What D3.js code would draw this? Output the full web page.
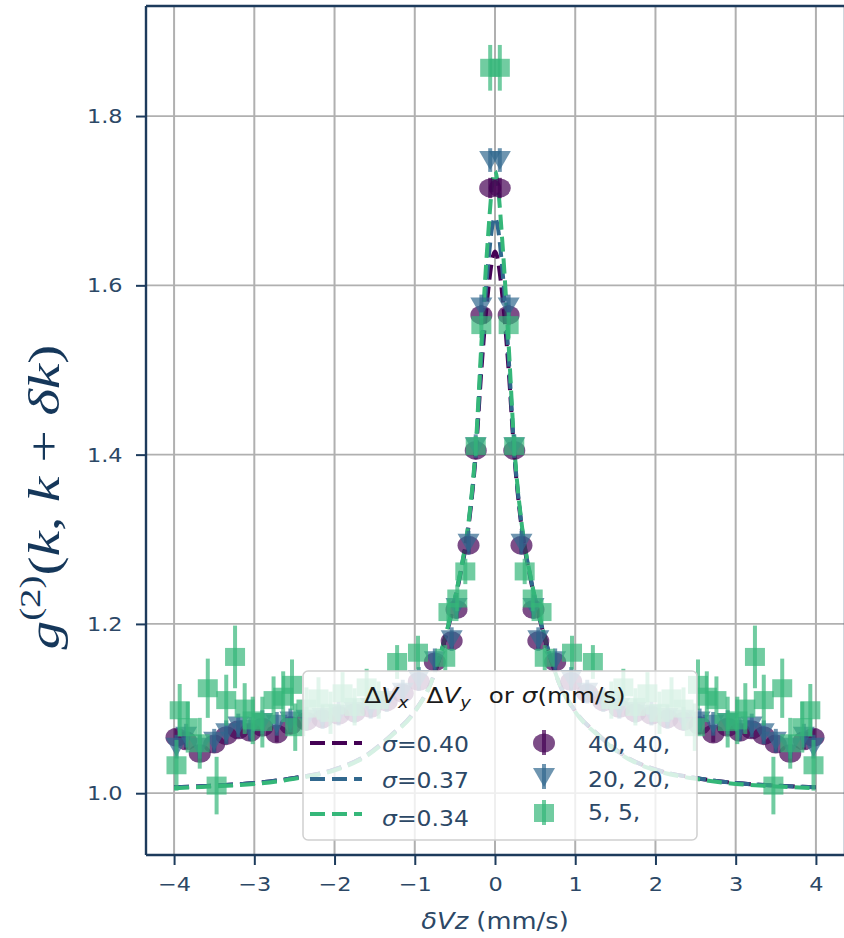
<!DOCTYPE html>
<html>
<head>
<meta charset="utf-8">
<script src="https://cdn.jsdelivr.net/npm/d3@7"></script>
<style>
  body { margin: 0; background: #fff; }
  text { font-family: "DejaVu Sans", sans-serif; }
</style>
</head>
<body>
<svg id="chart" width="844" height="938"></svg>
<script>
// ---- data ----
const xTicks = [-4, -3, -2, -1, 0, 1, 2, 3, 4];
const yTicks = [1.0, 1.2, 1.4, 1.6, 1.8];

// bins shared by the 40,40 and 20,20 data sets
const binX = [-3.97,-3.85,-3.68,-3.50,-3.35,-3.20,-3.05,-2.90,-2.72,-2.55,-2.35,-2.15,-1.95,-1.75,-1.55,-1.35,-1.15,-0.95,-0.75,-0.54,-0.48,-0.33,-0.24,-0.17,-0.06,
              0.06,0.17,0.24,0.33,0.48,0.54,0.75,0.95,1.15,1.35,1.55,1.75,1.95,2.15,2.35,2.55,2.72,2.90,3.05,3.20,3.35,3.50,3.68,3.85,3.97];

const g40 = [1.066,1.062,1.047,1.058,1.068,1.075,1.072,1.078,1.070,1.080,1.085,1.088,1.092,1.095,1.100,1.108,1.118,1.132,1.155,1.180,1.217,1.293,1.405,1.565,1.715,
             1.715,1.565,1.405,1.293,1.217,1.180,1.155,1.132,1.118,1.108,1.100,1.095,1.092,1.088,1.085,1.080,1.070,1.078,1.072,1.075,1.068,1.058,1.047,1.062,1.066];
const e40 = [0.010,0.010,0.010,0.010,0.010,0.010,0.010,0.010,0.010,0.010,0.010,0.010,0.010,0.010,0.010,0.010,0.010,0.010,0.010,0.010,0.010,0.010,0.010,0.012,0.012,
             0.012,0.012,0.010,0.010,0.010,0.010,0.010,0.010,0.010,0.010,0.010,0.010,0.010,0.010,0.010,0.010,0.010,0.010,0.010,0.010,0.010,0.010,0.010,0.010,0.010];

const g20 = [1.055,1.068,1.055,1.062,1.072,1.080,1.076,1.084,1.082,1.086,1.088,1.090,1.094,1.097,1.102,1.110,1.120,1.135,1.157,1.182,1.220,1.296,1.410,1.575,1.748,
             1.748,1.575,1.410,1.296,1.220,1.182,1.157,1.135,1.120,1.110,1.102,1.097,1.094,1.090,1.088,1.086,1.082,1.084,1.076,1.080,1.072,1.062,1.055,1.068,1.055];
const e20 = [0.014,0.014,0.014,0.014,0.014,0.014,0.014,0.014,0.014,0.014,0.014,0.014,0.014,0.014,0.014,0.014,0.014,0.014,0.014,0.014,0.014,0.014,0.014,0.014,0.014,
             0.014,0.014,0.014,0.014,0.014,0.014,0.014,0.014,0.014,0.014,0.014,0.014,0.014,0.014,0.014,0.014,0.014,0.014,0.014,0.014,0.014,0.014,0.014,0.014,0.014];

const x5 = [-3.97,-3.93,-3.83,-3.68,-3.58,-3.47,-3.35,-3.24,-3.12,-3.02,-2.90,-2.76,-2.64,-2.53,-2.49,-2.35,-2.20,-2.05,-1.90,-1.75,-1.60,-1.45,-1.22,-0.96,-0.62,-0.58,-0.47,-0.37,-0.24,-0.17,-0.06,
            0.06,0.17,0.24,0.37,0.47,0.58,0.62,0.96,1.22,1.45,1.60,1.75,1.90,2.05,2.20,2.35,2.49,2.53,2.64,2.76,2.90,3.02,3.12,3.24,3.35,3.47,3.58,3.68,3.83,3.93,3.97];
const g5 = [1.033,1.098,1.078,1.059,1.124,1.009,1.110,1.161,1.100,1.086,1.084,1.110,1.114,1.128,1.078,1.100,1.112,1.095,1.118,1.102,1.125,1.110,1.155,1.166,1.160,1.214,1.230,1.262,1.410,1.553,1.857,
            1.857,1.553,1.410,1.262,1.230,1.214,1.160,1.166,1.155,1.110,1.125,1.102,1.118,1.095,1.112,1.100,1.078,1.128,1.114,1.110,1.084,1.086,1.100,1.161,1.110,1.009,1.124,1.059,1.078,1.098,1.033];
const e5 = [0.030,0.031,0.030,0.030,0.035,0.034,0.030,0.037,0.030,0.028,0.030,0.028,0.030,0.030,0.028,0.025,0.025,0.025,0.025,0.022,0.022,0.022,0.020,0.020,0.015,0.015,0.015,0.015,0.012,0.015,0.027,
            0.027,0.015,0.012,0.015,0.015,0.015,0.015,0.020,0.020,0.022,0.022,0.022,0.025,0.025,0.025,0.025,0.028,0.030,0.030,0.028,0.030,0.028,0.030,0.037,0.030,0.034,0.035,0.030,0.030,0.031,0.030];

// fitted curves (dashed)
const fitX  = [-4,-3.5,-3,-2.5,-2,-1.6,-1.3,-1.0,-0.8,-0.6,-0.45,-0.33,-0.24,-0.17,-0.1,0,0.1,0.17,0.24,0.33,0.45,0.6,0.8,1.0,1.3,1.6,2,2.5,3,3.5,4];
const fit40 = [1.007,1.009,1.012,1.018,1.028,1.045,1.068,1.097,1.130,1.190,1.250,1.315,1.400,1.500,1.580,1.640,1.580,1.500,1.400,1.315,1.250,1.190,1.130,1.097,1.068,1.045,1.028,1.018,1.012,1.009,1.007];
const fit37 = [1.007,1.009,1.012,1.018,1.028,1.045,1.068,1.097,1.130,1.191,1.252,1.318,1.405,1.515,1.610,1.680,1.610,1.515,1.405,1.318,1.252,1.191,1.130,1.097,1.068,1.045,1.028,1.018,1.012,1.009,1.007];
const fit34 = [1.006,1.008,1.011,1.017,1.027,1.044,1.067,1.096,1.130,1.192,1.253,1.320,1.410,1.530,1.640,1.735,1.640,1.530,1.410,1.320,1.253,1.192,1.130,1.096,1.067,1.044,1.027,1.017,1.011,1.008,1.006];

const fitLabels = ["0.40", "0.37", "0.34"];
const dataLabels = ["40, 40,", "20, 20,", "5, 5,"];
const colors = ["#440154", "#31688e", "#35b779"];

// ---- layout ----
const svg = d3.select("#chart");
const X0 = 146, X1 = 844, Y0 = 855, Y1 = 6;
const SX = 1.12;                 // picture is slightly stretched sideways
const navy = "#1d3b5c", ink = "#2c4866";

const x = d3.scaleLinear().domain([-4.35, 4.35]).range([X0, X1]);
const y = d3.scaleLinear().domain([0.927, 1.93]).range([Y0, Y1]);

// grid
svg.append("g").selectAll("line").data(xTicks).join("line")
  .attr("x1", d => x(d)).attr("x2", d => x(d)).attr("y1", Y1).attr("y2", Y0)
  .attr("stroke", "#b0b0b0").attr("stroke-width", 2);
svg.append("g").selectAll("line").data(yTicks).join("line")
  .attr("x1", X0).attr("x2", X1).attr("y1", d => y(d)).attr("y2", d => y(d))
  .attr("stroke", "#b0b0b0").attr("stroke-width", 1.7);

// dashed fits
const fitLine = d3.line().x((d, i) => x(fitX[i])).y(d => y(d)).curve(d3.curveMonotoneX);
[fit40, fit37, fit34].forEach((arr, k) => {
  svg.append("path").attr("d", fitLine(arr))
    .attr("fill", "none").attr("stroke", colors[k])
    .attr("stroke-width", 4).attr("stroke-dasharray", "15,7");
});

// marker shapes
function marker(g, kind, color) {
  if (kind === 0) {
    g.append("ellipse").attr("rx", 11).attr("ry", 9.5).attr("fill", color);
  } else if (kind === 1) {
    g.append("path").attr("d", "M-11,-9L11,-9L0,10Z").attr("fill", color);
  } else {
    g.append("rect").attr("x", -10).attr("y", -9).attr("width", 20).attr("height", 18).attr("fill", color);
  }
}

function drawSeries(xs, ys, es, kind) {
  const color = colors[kind];
  const g = svg.append("g");
  g.selectAll("line").data(ys).join("line")
    .attr("x1", (d, i) => x(xs[i])).attr("x2", (d, i) => x(xs[i]))
    .attr("y1", (d, i) => y(d - es[i])).attr("y2", (d, i) => y(d + es[i]))
    .attr("stroke", color).attr("stroke-width", 4).attr("stroke-opacity", 0.7);
  ys.forEach((d, i) => {
    const m = g.append("g").attr("transform", `translate(${x(xs[i])},${y(d)})`).attr("fill-opacity", 0.7);
    marker(m, kind, color);
  });
}
drawSeries(binX, g40, e40, 0);
drawSeries(binX, g20, e20, 1);
drawSeries(x5, g5, e5, 2);

// spines
const sp = svg.append("g").attr("stroke", navy).attr("stroke-width", 2.4);
sp.append("line").attr("x1", X0).attr("x2", X0).attr("y1", Y1).attr("y2", Y0);
sp.append("line").attr("x1", X0).attr("x2", X1).attr("y1", Y0).attr("y2", Y0);
sp.append("line").attr("x1", X0).attr("x2", X1).attr("y1", Y1).attr("y2", Y1);
sp.append("line").attr("x1", X1 + 1).attr("x2", X1 + 1).attr("y1", Y1).attr("y2", Y0);

// axes
const gx = svg.append("g").attr("transform", `translate(0,${Y0})`)
  .call(d3.axisBottom(x).tickValues(xTicks).tickSize(10).tickPadding(12).tickFormat(d3.format("d")));
const gy = svg.append("g").attr("transform", `translate(${X0},0)`)
  .call(d3.axisLeft(y).tickValues(yTicks).tickSize(10).tickPadding(11).tickFormat(d3.format(".1f")));
[gx, gy].forEach(g => {
  g.select(".domain").remove();
  g.attr("font-size", 20);
  g.selectAll(".tick line").attr("stroke", navy).attr("stroke-width", 2);
  g.selectAll(".tick text").attr("fill", ink).attr("transform", `scale(${SX},1)`);
});

// axis labels
const xl = svg.append("text").attr("transform", `translate(495,929) scale(${SX},1)`)
  .attr("text-anchor", "middle").attr("font-size", 23).attr("fill", ink);
xl.append("tspan").attr("font-style", "italic").text("δVz");
xl.append("tspan").text(" (mm/s)");

// y label in a serif math style
const yl = svg.append("text").style("font-family", "'Liberation Serif', serif").attr("font-size", 40)
  .attr("fill", "#15375a").attr("text-anchor", "middle");
yl.append("tspan").attr("font-style", "italic").text("g");
yl.append("tspan").attr("font-size", 27).attr("dy", -17).text("(2)");
yl.append("tspan").attr("dy", 17).text("(");
yl.append("tspan").attr("font-style", "italic").text("k");
yl.append("tspan").text(", ");
yl.append("tspan").attr("font-style", "italic").text("k");
yl.append("tspan").text(" + ");
yl.append("tspan").attr("font-style", "italic").text("δk");
yl.append("tspan").text(")");
const ylen = yl.node().getComputedTextLength();
yl.attr("transform", `translate(59,497) rotate(-90) scale(${305 / ylen},${SX})`);

// legend
const leg = svg.append("g");
leg.append("rect").attr("x", 303).attr("y", 671).attr("width", 394).attr("height", 169)
  .attr("rx", 5).attr("fill", "#fff").attr("fill-opacity", 0.8)
  .attr("stroke", "#d0d0d0").attr("stroke-width", 1.5);

function stext(px, py, size, anchor) {
  return leg.append("text").attr("transform", `translate(${px},${py}) scale(${SX},1)`)
    .attr("font-size", size).attr("text-anchor", anchor || "start");
}

const tt = stext(495, 703, 22, "middle").attr("fill", "#1a1a1a");
tt.append("tspan").text("Δ");
tt.append("tspan").attr("font-style", "italic").text("V");
tt.append("tspan").attr("font-style", "italic").attr("font-size", 16).attr("dy", 5).text("x");
tt.append("tspan").attr("dy", -5).attr("dx", 16).text("Δ");
tt.append("tspan").attr("font-style", "italic").text("V");
tt.append("tspan").attr("font-style", "italic").attr("font-size", 16).attr("dy", 5).text("y");
tt.append("tspan").attr("dy", -5).attr("dx", 16).text("or ");
tt.append("tspan").attr("font-style", "italic").text("σ");
tt.append("tspan").text("(mm/s)");

const rowLine = [743, 779, 814];
const rowLineText = [752, 788, 826];
const rowMark = [743, 777, 813];
const rowMarkText = [752, 787, 820];

fitLabels.forEach((lab, k) => {
  leg.append("line").attr("x1", 310).attr("x2", 362).attr("y1", rowLine[k]).attr("y2", rowLine[k])
    .attr("stroke", colors[k]).attr("stroke-width", 4).attr("stroke-dasharray", "15,7");
  const t = stext(382, rowLineText[k], 21).attr("fill", ink);
  t.append("tspan").attr("font-style", "italic").text("σ");
  t.append("tspan").text("=" + lab);
});

dataLabels.forEach((lab, k) => {
  const m = leg.append("g").attr("transform", `translate(544,${rowMark[k]})`);
  m.append("line").attr("y1", -13).attr("y2", 12).attr("stroke", colors[k])
    .attr("stroke-width", 4).attr("stroke-opacity", 0.7);
  const mm = m.append("g").attr("fill-opacity", 0.7);
  marker(mm, k, colors[k]);
  stext(588, rowMarkText[k], 21).attr("fill", ink).text(lab);
});
</script>
</body>
</html>
